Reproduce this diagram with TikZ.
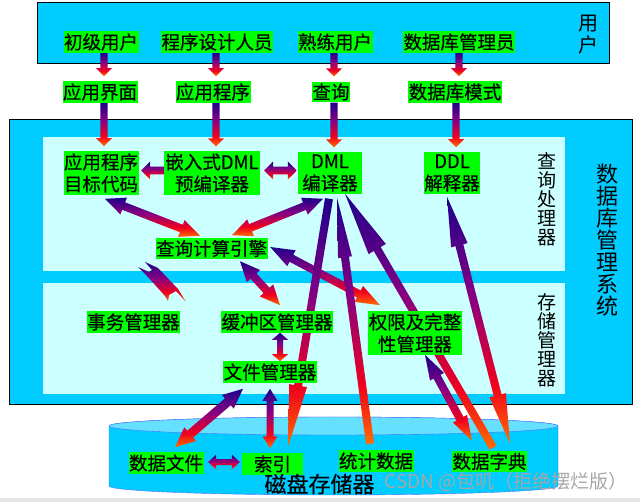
\documentclass[tikz,border=0pt]{standalone}
\usepackage{fontspec}
\setmainfont{Noto Sans CJK SC}[FakeBold=0.4]
\newfontfamily\thinfont{Noto Sans CJK SC}
\usepackage{tikz}
\usetikzlibrary{calc}

\definecolor{boxcyan}{RGB}{0,204,255}
\definecolor{palecyan}{RGB}{204,255,255}
\definecolor{lblgreen}{RGB}{0,255,0}
\definecolor{disktop}{RGB}{102,224,255}
\definecolor{diskline}{RGB}{80,110,255}
\definecolor{arrnavy}{RGB}{30,0,140}
\definecolor{arrpurple}{RGB}{135,0,130}
\definecolor{arrred}{RGB}{240,0,30}
\definecolor{arrorange}{RGB}{255,110,0}

\pgfdeclareverticalshading{arrowfill}{100bp}{color(0bp)=(arrorange); color(25bp)=(arrorange); color(37bp)=(arrred); color(55bp)=(arrpurple); color(75bp)=(arrnavy); color(100bp)=(arrnavy)}

\pgfdeclarelayer{boxes}
\pgfdeclarelayer{arr}
\pgfsetlayers{boxes,arr,main}

% head length, head half width, shaft half width
\newcommand\arrdims[3]{\def\ahlen{#1}\def\ahwid{#2}\def\aswid{#3}}
% block arrow: tail, tip
\newcommand\blockarrow[2]{%
  \path (#1) coordinate (ba-t) (#2) coordinate (ba-p);
  \path ($(ba-p)!\ahlen!(ba-t)$) coordinate (ba-h);
  \shade[shading=arrowfill]
    ($(ba-t)!\aswid!90:(ba-p)$) -- ($(ba-h)!\aswid!-90:(ba-t)$)
    -- ($(ba-h)!\ahwid!-90:(ba-t)$) -- (ba-p)
    -- ($(ba-h)!\ahwid!90:(ba-t)$) -- ($(ba-h)!\aswid!90:(ba-t)$)
    -- ($(ba-t)!\aswid!-90:(ba-p)$) -- cycle;
}
% block arrow with two heads
\newcommand\dblarrow[2]{%
  \path (#1) coordinate (ba-t) (#2) coordinate (ba-p);
  \path ($(ba-t)!\ahlen!(ba-p)$) coordinate (ba-g)
        ($(ba-p)!\ahlen!(ba-t)$) coordinate (ba-h);
  \shade[shading=arrowfill] (ba-t)
    -- ($(ba-g)!\ahwid!90:(ba-p)$) -- ($(ba-g)!\aswid!90:(ba-p)$)
    -- ($(ba-h)!\aswid!-90:(ba-t)$) -- ($(ba-h)!\ahwid!-90:(ba-t)$)
    -- (ba-p)
    -- ($(ba-h)!\ahwid!90:(ba-t)$) -- ($(ba-h)!\aswid!90:(ba-t)$)
    -- ($(ba-g)!\aswid!-90:(ba-p)$) -- ($(ba-g)!\ahwid!-90:(ba-p)$) -- cycle;
}

\begin{document}
\begin{tikzpicture}[x=1pt,y=-1pt]
  \tikzstyle{lbl}=[fill=lblgreen,text=black,inner xsep=0.5pt,inner ysep=2pt,
                   align=center,font=\fontsize{18.5}{22}\selectfont]
  \tikzstyle{vlbl}=[inner sep=0pt,align=center,text width=20pt,
                    font=\thinfont\fontsize{19}{19}\selectfont]

  \useasboundingbox (0,0) rectangle (640,502);

  \begin{pgfonlayer}{boxes}
    \fill[black!10] (0,498) rectangle (640,502);
    \draw[fill=boxcyan,line width=1pt] (37,3) rectangle (609,64);
    \draw[fill=boxcyan,line width=1pt] (9,120) rectangle (632,405);
    \fill[palecyan] (43,137) rectangle (565,271);
    \fill[palecyan] (43,283) rectangle (565,394);
    % disk
    \filldraw[draw=diskline,fill=boxcyan] (109,426) -- (109,486)
      arc[start angle=180,end angle=360,x radius=224.5pt,y radius=9pt]
      -- (558,426)
      arc[start angle=0,end angle=180,x radius=224.5pt,y radius=9pt] -- cycle;
    \filldraw[draw=diskline,fill=disktop] (333.5,426) ellipse [x radius=224.5pt,y radius=9pt];
  \end{pgfonlayer}

  % users
  \node[lbl] (cjyh)   at (101,42) {初级用户};
  \node[lbl] (cxsj)   at (217,42) {程序设计人员};
  \node[lbl] (slyh)   at (335,42) {熟练用户};
  \node[lbl] (sjkgly) at (459,42) {数据库管理员};
  \node[vlbl,font=\thinfont\fontsize{20}{22}\selectfont] (yh) at (588,35) {用\\户};

  \node[lbl] (yyjm)  at (100,92) {应用界面};
  \node[lbl] (yycx)  at (213,92) {应用程序};
  \node[lbl] (cx)    at (331,92) {查询};
  \node[lbl] (sjkms) at (455,92) {数据库模式};

  % query processor
  \node[lbl]                    (yymb) at (101,173) {应用程序\\目标代码};
  \node[lbl,minimum width=96pt] (qrs)  at (212,173) {嵌入式DML\\预编译器};
  \node[lbl,minimum width=64pt] (dml)  at (330,173) {DML\\编译器};
  \node[lbl]                    (ddl)  at (452,173) {DDL\\解释器};
  \node[lbl]                    (cqjs) at (211.5,248.5) {查询计算引擎};
  \node[vlbl] (cxclq) at (547,199.5) {查\\询\\处\\理\\器};

  % storage manager
  \node[lbl] (swgl) at (133.5,322) {事务管理器};
  \node[lbl] (hcq)  at (277,322)   {缓冲区管理器};
  \node[lbl] (qx)   at (415,333)   {权限及完整\\性管理器};
  \node[lbl] (wjgl) at (270,372)   {文件管理器};
  \node[vlbl] (ccglq) at (547,340) {存\\储\\管\\理\\器};
  \node[vlbl,font=\thinfont\fontsize{22}{22}\selectfont] (dbms) at (606,240)
       {数\\据\\库\\管\\理\\系\\统};

  % disk
  \node[lbl]                    (sjwj) at (166,463)     {数据文件};
  \node[lbl,minimum width=61pt] (sy)   at (272.5,464)   {索引};
  \node[lbl]                    (tjsj) at (376,461)     {统计数据};
  \node[lbl]                    (sjzd) at (489.5,461.5) {数据字典};
  \node[font=\fontsize{22}{22}\selectfont] (cpccq) at (319.5,484) {磁盘存储器};
  \node[text=black!35,font=\thinfont\fontsize{19}{19}\selectfont] (csdn) at (506,482)
       {CSDN @包叽（拒绝摆烂版）};

  \begin{pgfonlayer}{arr}
    \arrdims{8pt}{8pt}{3.7pt}
    \blockarrow{$(cjyh.south)+(3,0)$}{$(yyjm.north)+(4,-5)$}
    \blockarrow{$(cxsj.south)+(-1,0)$}{$(yycx.north)+(3,-5)$}
    \blockarrow{$(slyh.south)+(-1,0)$}{$(cx.north)+(3,-5)$}
    \blockarrow{sjkgly.south}{$(sjkms.north)+(4,-5)$}
    \blockarrow{$(yyjm.south)+(4,0)$}{$(yymb.north)+(3,-5)$}
    \blockarrow{$(yycx.south)+(3,0)$}{$(qrs.north)+(4,-5)$}
    \blockarrow{$(cx.south)+(3,0)$}{$(dml.north)+(4,-5)$}
    \blockarrow{$(sjkms.south)+(1,0)$}{$(ddl.north)+(4,-5)$}

    \arrdims{9pt}{9pt}{3.8pt}
    \blockarrow{$(qrs.west)+(0,-2.5)$}{$(yymb.east)+(2.5,-2.5)$}
    \dblarrow{$(qrs.east)+(4,-2.5)$}{$(dml.west)+(-1,-2.5)$}

    \arrdims{20pt}{9pt}{4pt}
    \dblarrow{$(yymb.south)+(4,4)$}{$(cqjs.north)+(-11.5,-2)$}
    \dblarrow{$(dml.south)+(-7,5)$}{$(cqjs.north)+(20.5,-2.5)$}
    \dblarrow{$(cqjs.south)+(28.5,2)$}{$(hcq.north)+(3,-6)$}
    \arrdims{24pt}{9pt}{4pt}
    \dblarrow{$(cqjs.east)+(2.5,-1.5)$}{$(qx.north)+(-35,-6)$}
    \arrdims{7pt}{8pt}{3pt}
    \dblarrow{$(hcq.south)+(3,0)$}{$(wjgl.north)+(10,0)$}

    % long arrows to the disk
    \arrdims{62pt}{9pt}{4pt}
    \blockarrow{$(dml.south)+(-1,5)$}{$(sy.north)+(15.5,-6.5)$}
    \arrdims{60pt}{7pt}{4pt}
    \blockarrow{$(tjsj.north)+(-6,-6.5)$}{$(dml.south)+(7,4)$}
    \arrdims{64pt}{10pt}{4pt}
    \blockarrow{$(sjzd.north)+(3.5,-3)$}{$(dml.south)+(15,0)$}
    \arrdims{50pt}{8.5pt}{4pt}
    \dblarrow{$(ddl.south)+(-5,3)$}{$(sjzd.north)+(20.5,-7)$}
    \arrdims{25pt}{8pt}{4pt}
    \dblarrow{$(qx.south)+(10,0)$}{$(sjzd.north)+(-17.5,-10)$}
    \arrdims{20pt}{9pt}{4.5pt}
    \dblarrow{$(wjgl.south)+(-27,6)$}{$(sjwj.north)+(9,-5)$}
    \arrdims{12pt}{7.5pt}{3.5pt}
    \dblarrow{$(wjgl.south)+(0,6)$}{$(sy.north)+(-2.5,-5)$}
    \arrdims{8pt}{7.5pt}{3pt}
    \dblarrow{$(sjwj.east)+(4.5,-1)$}{$(sy.west)+(-2,-2)$}

    % squashed arrow by the transaction manager
    \shade[shading=arrowfill] (138,267) -- (147,276) -- (165,296) -- (168,301)
      -- (169,295) -- (176,291) -- (186,302) -- (178,289) -- (158,268)
      -- (145,262) -- (152,270) -- (149,272) -- cycle;
  \end{pgfonlayer}
\end{tikzpicture}
\end{document}
